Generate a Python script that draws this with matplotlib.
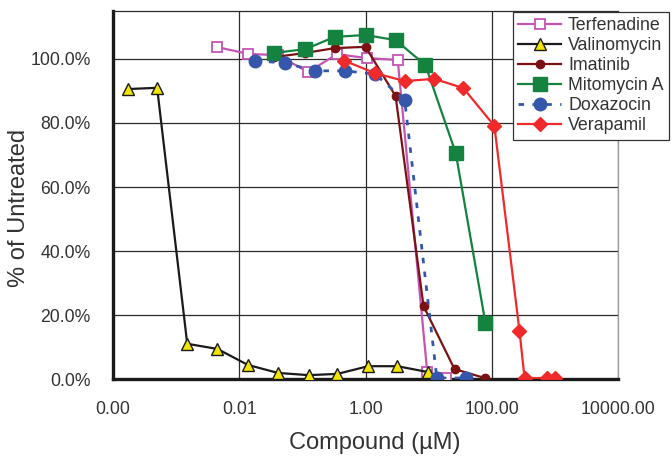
import numpy as np
import matplotlib
matplotlib.use('Agg')
import matplotlib.pyplot as plt
from matplotlib.ticker import PercentFormatter, FixedLocator, NullLocator

plt.rcParams['font.family'] = ['Liberation Sans', 'DejaVu Sans']

# compound concentration (uM) and fraction of untreated
terf_x = [0.0045, 0.0138, 0.041, 0.123, 0.35, 1.05, 3.24, 9.5, 19]
terf_y = [1.037, 1.016, 1.012, 0.959, 1.015, 1.003, 0.997, 0.022, 0.003]

vali_x = [0.00017, 0.0005, 0.0015, 0.0045, 0.0137, 0.041, 0.126, 0.36, 1.1, 3.2, 9.6]
vali_y = [0.906, 0.91, 0.11, 0.094, 0.044, 0.019, 0.012, 0.016, 0.04, 0.04, 0.022]

imat_x = [0.036, 0.112, 0.324, 1.0, 3.0, 8.3, 25.7, 77.6]
imat_y = [1.006, 1.019, 1.034, 1.038, 0.884, 0.228, 0.031, 0.003]

mito_x = [0.036, 0.112, 0.324, 1.0, 3.0, 8.9, 26.9, 79.4]
mito_y = [1.019, 1.031, 1.069, 1.075, 1.059, 0.981, 0.706, 0.175]

doxa_x = [0.0178, 0.0525, 0.158, 0.468, 1.41, 4.17, 13.5, 38.9]
doxa_y = [0.994, 0.988, 0.963, 0.963, 0.953, 0.872, 0.003, 0.003]

vera_x = [0.457, 1.41, 4.17, 12.3, 35.5, 110, 275, 331, 759, 1023]
vera_y = [0.995, 0.956, 0.931, 0.938, 0.909, 0.791, 0.15, 0.003, 0.003, 0.003]

x_ticks = [1e-4, 1e-2, 1, 1e2, 1e4]
x_labels = ['0.00', '0.01', '1.00', '100.00', '10000.00']
y_ticks = [0, 0.2, 0.4, 0.6, 0.8, 1.0]

txt = '#333333'

fig = plt.figure(figsize=(6.72, 4.58), dpi=100)
ax = fig.add_axes([113/672, 1-379/458, (618-113)/672, (379-11)/458])

ax.plot(terf_x, terf_y, color='#c455b5', lw=1.6, marker='s', ms=7,
        mfc='white', mec='#c455b5', mew=1.3, label='Terfenadine', zorder=3)
ax.plot(vali_x, vali_y, color='#1a1a1a', lw=1.6, marker='^', ms=8.5,
        mfc='#f2e400', mec='#1a1a1a', mew=1, label='Valinomycin', zorder=4)
ax.plot(imat_x, imat_y, color='#7a1214', lw=1.6, marker='o', ms=6,
        label='Imatinib', zorder=4)
ax.plot(mito_x, mito_y, color='#13833f', lw=1.6, marker='s', ms=9.5,
        label='Mitomycin A', zorder=5)
ax.plot(doxa_x, doxa_y, color='#3557ab', lw=2, ls=(0, (2, 3)), marker='o', ms=9,
        label='Doxazocin', zorder=5)
ax.plot(vera_x, vera_y, color='#f02a2a', lw=1.6, marker='D', ms=7,
        label='Verapamil', zorder=6)

ax.set_xscale('log')
ax.set_xlim(1e-4, 1e4)
ax.set_ylim(0, 1.15)
ax.xaxis.set_major_locator(FixedLocator(x_ticks))
ax.xaxis.set_minor_locator(NullLocator())
ax.set_xticklabels(x_labels)
ax.set_yticks(y_ticks)
ax.yaxis.set_major_formatter(PercentFormatter(xmax=1, decimals=1))
ax.tick_params(length=0, pad=16, labelsize=12.7, colors=txt)

ax.grid(True, color='#2b2b2b', lw=0.9)
ax.set_axisbelow(True)
for s in ['left', 'bottom']:
    ax.spines[s].set_linewidth(2.4)
    ax.spines[s].set_color('#1a1a1a')
ax.spines['top'].set_linewidth(0.9)
ax.spines['top'].set_color('#2b2b2b')
ax.spines['right'].set_linewidth(0.9)
ax.spines['right'].set_color('#999999')

ax.set_xlabel('Compound (µM)', fontsize=17, color=txt)
ax.set_ylabel('% of Untreated', fontsize=17, color=txt)
ax.xaxis.set_label_coords(0.519, -0.144)
ax.yaxis.set_label_coords(-0.164, 0.465)

leg = ax.legend(loc='upper left', bbox_to_anchor=(513/672, 1-12/458),
                bbox_transform=fig.transFigure, fontsize=12.8, frameon=True,
                fancybox=False, edgecolor='#333333', framealpha=1,
                handlelength=2.4, labelspacing=0.17, borderpad=0.3,
                handletextpad=0.4, borderaxespad=0)
leg.get_frame().set_linewidth(0.9)
for t in leg.get_texts():
    t.set_color(txt)
leg.set_zorder(10)

fig.savefig('out.png', dpi=100)
